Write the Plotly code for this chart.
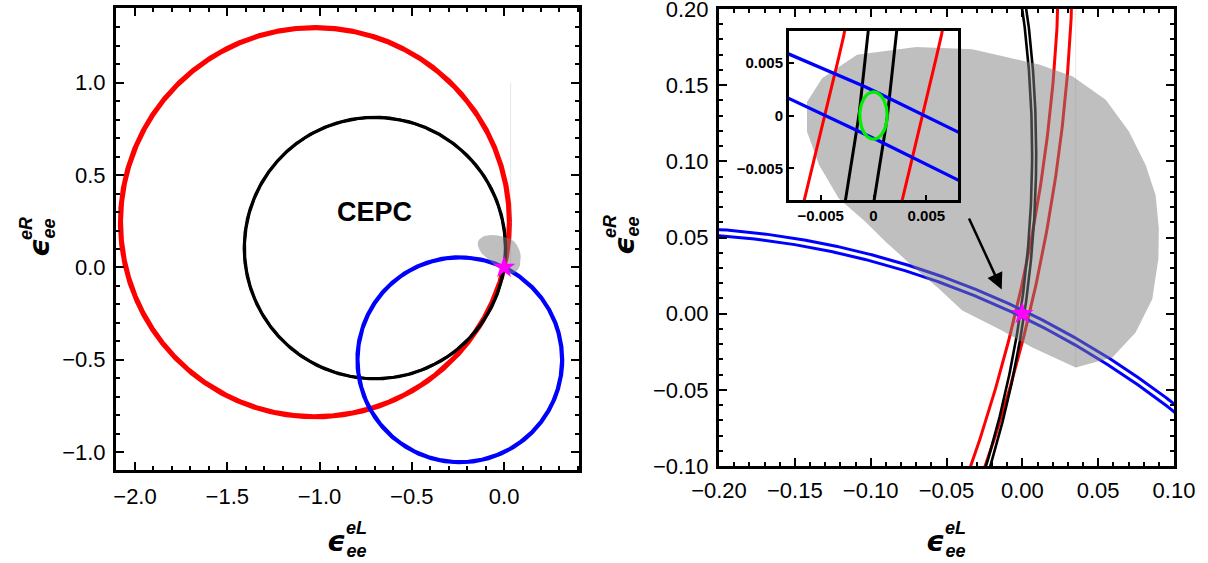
import numpy as np
import plotly.graph_objects as go

W, H = 1208, 563

# ---------------- data ----------------
# bands: two concentric circles (radius r +/- dr) for each constraint
circle_names = ["red", "black", "blue"]
circle_cx = [-1.025, -0.700, -0.240]
circle_cy = [0.245, 0.105, -0.500]
circle_r = [1.0539, 0.7078, 0.5547]
circle_dr = [0.0045, 0.00134, 0.00203]
circle_colors = ["#ff0000", "#000000", "#0000ff"]

# green ellipse in the inset
green_center = [0.0, 0.0]
green_semi = [0.0013, 0.00224]

# gray allowed region (polygon)
gray_x = [-0.142, -0.132, -0.109, -0.070, -0.033, 0.011, 0.033, 0.055, 0.0703,
          0.0813, 0.0879, 0.0900, 0.0897, 0.0857, 0.0747, 0.0593, 0.0352, 0.0066,
          -0.0154, -0.0396, -0.055, -0.0703, -0.090, -0.1033, -0.121, -0.134, -0.142]
gray_y = [0.139, 0.1545, 0.170, 0.175, 0.1736, 0.1635, 0.1558, 0.1405, 0.1196,
          0.0976, 0.0778, 0.0558, 0.036, 0.0097, -0.0123, -0.0288, -0.0354, -0.0222,
          -0.0101, 0.002, 0.0163, 0.0294, 0.047, 0.0602, 0.0756, 0.0976, 0.1196]
seam_x = [0.0352, 0.0352]
seam_y = [-0.0354, 1.0]

star_x = [0.0]
star_y = [0.0]

arrow_tip = [-0.0136, 0.0159]
arrow_tail = [-0.0356, 0.0635]

cepc_pos = [-0.70, 0.30]

left_xticks = [-2.0, -1.5, -1.0, -0.5, 0.0]
left_yticks = [-1.0, -0.5, 0.0, 0.5, 1.0]
right_xticks = [-0.20, -0.15, -0.10, -0.05, 0.00, 0.05, 0.10]
right_yticks = [-0.10, -0.05, 0.00, 0.05, 0.10, 0.15, 0.20]
inset_ticks = [-0.005, 0.0, 0.005]
inset_ticktext = ["\u22120.005", "0", "0.005"]

# ---------------- helpers ----------------
def px(x):
    return x / W

def py(y):
    return 1 - y / H

theta = np.linspace(0, 2 * np.pi, 3001)

fig = go.Figure()

def add_bands(xa, ya, widths):
    for name, cx, cy, r, dr, col in zip(circle_names, circle_cx, circle_cy,
                                         circle_r, circle_dr, circle_colors):
        for rr in (r - dr, r + dr):
            fig.add_trace(go.Scatter(
                x=cx + rr * np.cos(theta), y=cy + rr * np.sin(theta),
                mode="lines", line=dict(color=col, width=widths[name]),
                xaxis=xa, yaxis=ya, hoverinfo="skip", showlegend=False))

def add_gray(xa, ya):
    fig.add_trace(go.Scatter(
        x=gray_x + [gray_x[0]], y=gray_y + [gray_y[0]], mode="lines",
        fill="toself", fillcolor="rgba(128,128,128,0.5)",
        line=dict(width=0, color="rgba(0,0,0,0)"),
        xaxis=xa, yaxis=ya, hoverinfo="skip", showlegend=False))
    fig.add_trace(go.Scatter(
        x=seam_x, y=seam_y, mode="lines",
        line=dict(color="rgba(128,128,128,0.18)", width=1),
        xaxis=xa, yaxis=ya, hoverinfo="skip", showlegend=False))

def add_star(xa, ya):
    fig.add_trace(go.Scatter(
        x=star_x, y=star_y, mode="markers",
        marker=dict(symbol="star", size=17, color="#ff00ff", line=dict(width=0)),
        xaxis=xa, yaxis=ya, hoverinfo="skip", showlegend=False))

# left panel
add_bands("x", "y", {"red": 3.5, "black": 2.9, "blue": 3.5})
add_gray("x", "y")
add_star("x", "y")

# right panel
add_bands("x2", "y2", {"red": 3.0, "black": 2.6, "blue": 3.0})
add_gray("x2", "y2")
add_star("x2", "y2")

# inset
add_bands("x3", "y3", {"red": 3.0, "black": 3.0, "blue": 3.3})
fig.add_trace(go.Scatter(
    x=green_center[0] + green_semi[0] * np.cos(theta),
    y=green_center[1] + green_semi[1] * np.sin(theta),
    mode="lines", line=dict(color="#00ee00", width=3.2),
    xaxis="x3", yaxis="y3", hoverinfo="skip", showlegend=False))

tickfont = dict(family="Liberation Sans, Arial, sans-serif", size=22, color="black")

def main_axis(domain, rng, tickvals, fmt, minor_dt, standoff):
    return dict(domain=domain, range=rng, tickvals=tickvals, tickformat=fmt,
                automargin=False, ticklabeloverflow="allow", ticklabelstandoff=standoff,
                showgrid=False, zeroline=False, showline=True, linecolor="black",
                linewidth=3, mirror="allticks", ticks="inside", ticklen=8,
                tickwidth=2, tickcolor="black", tickfont=tickfont,
                minor=dict(dtick=minor_dt, ticks="inside", ticklen=4, tickwidth=1.5,
                           tickcolor="black", showgrid=False))

layout = dict(
    width=W, height=H, margin=dict(l=0, r=0, t=0, b=0, autoexpand=False),
    paper_bgcolor="white", plot_bgcolor="rgba(0,0,0,0)", showlegend=False,
    xaxis=main_axis([px(116), px(579)], [-2.103, 0.406], left_xticks, ".1f", 0.1, 5),
    yaxis=main_axis([py(470), py(8)], [-1.097, 1.405], left_yticks, ".1f", 0.1, 3),
    xaxis2=main_axis([px(719), px(1174)], [-0.2, 0.1], right_xticks, ".2f", 0.01, 3),
    yaxis2=main_axis([py(466), py(9)], [-0.1, 0.2], right_yticks, ".2f", 0.01, 3),
)
inset_font = dict(family="Liberation Sans, Arial, sans-serif", size=15, color="black")
for ax, dom in (("xaxis3", [px(789), px(958)]), ("yaxis3", [py(200), py(31)])):
    layout[ax] = dict(domain=dom, range=[-0.008, 0.008], tickvals=inset_ticks,
                      ticktext=["<b>%s</b>" % t for t in inset_ticktext],
                      automargin=False,
                      showgrid=False, zeroline=False, showline=True, linecolor="black",
                      linewidth=3, mirror=True, ticks="inside", ticklen=5, tickwidth=2,
                      tickcolor="black", tickfont=inset_font)
layout["xaxis2"]["anchor"] = "y2"
layout["yaxis2"]["anchor"] = "x2"
layout["xaxis3"]["anchor"] = "y3"
layout["yaxis3"]["anchor"] = "x3"
fig.update_layout(**layout)

annotations = []
eps_font = dict(family="DejaVu Sans, sans-serif", size=29, color="black")
scr_font = dict(family="Liberation Sans, Arial, sans-serif", size=18, color="black")

def x_title(cx_eps, cx_scr):
    annotations.append(dict(xref="paper", yref="paper", x=px(cx_eps), y=py(541),
                            text="<b><i>\u03f5</i></b>", showarrow=False, font=eps_font,
                            xanchor="center", yanchor="middle"))
    annotations.append(dict(xref="paper", yref="paper", x=px(cx_scr), y=py(539),
                            text="<b><i>eL<br>ee</i></b>", showarrow=False, font=scr_font,
                            xanchor="center", yanchor="middle", align="center"))

def y_title(cx_eps, cy_eps, cy_scr):
    annotations.append(dict(xref="paper", yref="paper", x=px(cx_eps - 3), y=py(cy_eps),
                            text="<b><i>\u03f5</i></b>", showarrow=False, font=eps_font,
                            textangle=-90, xanchor="center", yanchor="middle"))
    annotations.append(dict(xref="paper", yref="paper", x=px(cx_eps - 5), y=py(cy_scr),
                            text="<b><i>eR<br>ee</i></b>", showarrow=False, font=scr_font,
                            textangle=-90, xanchor="center", yanchor="middle",
                            align="center"))

x_title(336.5, 356)
x_title(935.5, 955)
y_title(42, 248, 229)
y_title(627, 246, 227)

annotations.append(dict(xref="x", yref="y", x=cepc_pos[0], y=cepc_pos[1], text="<b>CEPC</b>",
                        showarrow=False,
                        font=dict(family="Liberation Sans, Arial, sans-serif", size=27,
                                  color="black")))
annotations.append(dict(xref="x2", yref="y2", x=arrow_tip[0], y=arrow_tip[1],
                        axref="x2", ayref="y2", ax=arrow_tail[0], ay=arrow_tail[1],
                        text="", showarrow=True, arrowhead=2, arrowsize=1.3,
                        arrowwidth=2.5, arrowcolor="black", standoff=0))
fig.update_layout(annotations=annotations)

fig.write_html("out.html", config={"displayModeBar": False},
               post_script="document.body.style.margin='0';"
                           "document.body.style.overflow='hidden';")
